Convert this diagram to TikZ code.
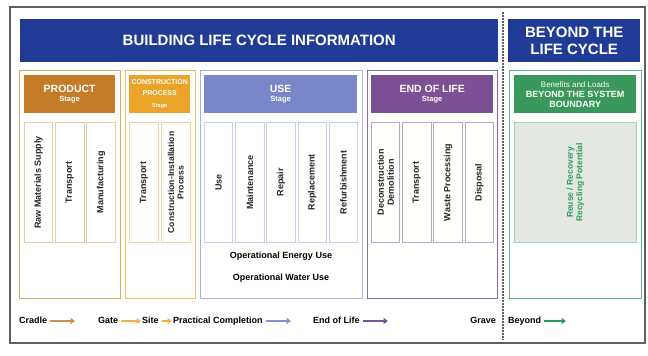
\documentclass[tikz,border=0pt]{standalone}
\usepackage{fontspec}
\setmainfont{Liberation Sans}
\usetikzlibrary{positioning, arrows.meta}

\definecolor{lcBlue}{RGB}{33,60,150}
\definecolor{prodHead}{RGB}{196,124,40}
\definecolor{prodLine}{RGB}{214,166,104}
\definecolor{prodCol}{RGB}{232,204,168}
\definecolor{consHead}{RGB}{234,164,40}
\definecolor{consLine}{RGB}{238,192,90}
\definecolor{consCol}{RGB}{242,214,150}
\definecolor{useHead}{RGB}{122,134,202}
\definecolor{useLine}{RGB}{168,178,222}
\definecolor{useCol}{RGB}{200,206,236}
\definecolor{eolHead}{RGB}{124,80,148}
\definecolor{eolLine}{RGB}{140,108,166}
\definecolor{eolCol}{RGB}{186,166,204}
\definecolor{bydHead}{RGB}{58,152,90}
\definecolor{bydLine}{RGB}{92,184,146}
\definecolor{bydCol}{RGB}{160,212,186}
\definecolor{bydFill}{RGB}{228,232,227}
\definecolor{bydText}{RGB}{46,154,94}
\definecolor{frameGray}{RGB}{95,95,95}

\newcommand{\HeadBig}[1]{{\fontsize{10.5}{12}\selectfont #1}}
\newcommand{\HeadSmall}[1]{{\fontsize{7.5}{8}\selectfont #1}}

\tikzstyle{Banner} = [fill=lcBlue, text=white, inner sep=0pt, anchor=north west,
minimum height=43pt, align=center, font=\bfseries\fontsize{15}{17}\selectfont]
\tikzstyle{Stage} = [draw, line width=1.3pt, inner sep=0pt, anchor=north west,
minimum height=228pt]
\tikzstyle{Head} = [inner sep=0pt, anchor=north west, minimum height=38pt,
text=white, align=center, font=\bfseries\fontsize{8}{9}\selectfont]
\tikzstyle{Col} = [draw, line width=0.9pt, inner sep=0pt,
minimum width=28.3pt, minimum height=120pt]
\tikzstyle{ColText} = [rotate=90, align=center, text=black!85,
font=\bfseries\fontsize{9}{10}\selectfont]
\tikzstyle{Legend} = [inner sep=1pt, text height=7pt, text depth=2pt,
font=\bfseries\fontsize{9}{10}\selectfont]
\tikzstyle{Arrow} = [line width=1.4pt, shorten <=2pt,
-{Triangle[length=4.5pt,width=6pt]}]

\begin{document}
\begin{tikzpicture}[x=1pt, y=-1pt]
    \useasboundingbox (0,0) rectangle (648,356);
    \draw[frameGray, line width=1.5pt] (10,7) rectangle (645,343);
    % banners
    \node[Banner, minimum width=478pt] (info) at (20,19) {BUILDING LIFE CYCLE INFORMATION};
    \node[Banner, minimum width=132pt] (beyondban) at (508,19) {BEYOND THE\\LIFE CYCLE};
    \draw[frameGray, line width=1.6pt, dash pattern=on 1.6pt off 1.4pt] (503,12) -- (503,340);
    % stages
    \node[Stage, draw=prodLine, minimum width=101pt] (prod) at (19,70) {};
    \node[Stage, draw=consLine, minimum width=70pt] (cons) at (125,70) {};
    \node[Stage, draw=useLine, minimum width=162pt] (use) at (200,70) {};
    \node[Stage, draw=eolLine, minimum width=130pt] (eol) at (367,70) {};
    \node[Stage, draw=bydLine, minimum width=132pt] (byd) at (509,70) {};
    % stage headers
    \node[Head, fill=prodHead, minimum width=91pt] (prodhead) at (24,75)
        {\HeadBig{PRODUCT}\\[0.5pt]\HeadSmall{Stage}};
    \node[Head, fill=consHead, minimum width=61pt] (conshead) at (129,75)
        {{\fontsize{7}{8}\selectfont CONSTRUCTION}\\[1.5pt]{\fontsize{7}{8}\selectfont PROCESS}\\[3pt]{\fontsize{5.5}{6}\selectfont Stage}};
    \node[Head, fill=useHead, minimum width=153pt] (usehead) at (204,75)
        {\HeadBig{USE}\\[0.5pt]\HeadSmall{Stage}};
    \node[Head, fill=eolHead, minimum width=122pt] (eolhead) at (371,75)
        {\HeadBig{END OF LIFE}\\[0.5pt]\HeadSmall{Stage}};
    \node[Head, fill=bydHead, minimum width=122pt] (bydhead) at (514,75)
        {{\mdseries\fontsize{8}{9}\selectfont Benefits and Loads}\\[1.5pt]{\fontsize{9}{10}\selectfont BEYOND THE SYSTEM}\\[0.5pt]{\fontsize{9}{10}\selectfont BOUNDARY}};
    % product modules
    \node[Col, draw=prodCol, anchor=north west, label={[ColText]center:Raw Materials Supply}] (p1) at (24,122) {};
    \node[Col, draw=prodCol, right=2pt of p1, label={[ColText]center:Transport}] (p2) {};
    \node[Col, draw=prodCol, right=2pt of p2, label={[ColText]center:Manufacturing}] (p3) {};
    % construction modules
    \node[Col, draw=consCol, anchor=north west, minimum width=29pt, label={[ColText]center:Transport}] (c1) at (129,122) {};
    \node[Col, draw=consCol, right=2pt of c1, minimum width=29pt,
        label={[ColText, font=\bfseries\fontsize{8.6}{9.6}\selectfont]center:{Construction-Installation\\Process}}] (c2) {};
    % use modules
    \node[Col, draw=useCol, anchor=north west, label={[ColText]center:Use}] (u1) at (204,122) {};
    \node[Col, draw=useCol, right=2pt of u1, label={[ColText]center:Maintenance}] (u2) {};
    \node[Col, draw=useCol, right=2pt of u2, label={[ColText]center:Repair}] (u3) {};
    \node[Col, draw=useCol, right=2pt of u3, label={[ColText]center:Replacement}] (u4) {};
    \node[Col, draw=useCol, right=2pt of u4, label={[ColText]center:Refurbishment}] (u5) {};
    \node[font=\bfseries\fontsize{9}{10}\selectfont] (energy) at (281,256) {Operational Energy Use};
    \node[font=\bfseries\fontsize{9}{10}\selectfont] (water) at (281,278) {Operational Water Use};
    % end of life modules
    \node[Col, draw=eolCol, anchor=north west, label={[ColText]center:{Deconstruction\\Demolition}}] (e1) at (371,122) {};
    \node[Col, draw=eolCol, right=2pt of e1, label={[ColText]center:Transport}] (e2) {};
    \node[Col, draw=eolCol, right=2pt of e2, label={[ColText]center:Waste Processing}] (e3) {};
    \node[Col, draw=eolCol, right=2pt of e3, label={[ColText]center:Disposal}] (e4) {};
    % beyond module
    \node[Col, draw=bydCol, fill=bydFill, anchor=north west, minimum width=122pt,
        label={[ColText, text=bydText, font=\bfseries\fontsize{8.5}{9.5}\selectfont]center:{Reuse / Recovery\\Recycling Potential}}] (b1) at (514,122) {};
    % legend
    \node[Legend, anchor=west] (cradle) at (18,321) {Cradle};
    \coordinate (cradleEnd) at (75,321);
    \draw[Arrow, prodHead!85] (cradle) -- (cradleEnd);
    \node[Legend, anchor=west] (gate) at (97,321) {Gate};
    \node[Legend, anchor=west] (site) at (141,321) {Site};
    \node[Legend, anchor=west] (pc) at (172,321) {Practical Completion};
    \draw[Arrow, consHead!85] (gate) -- (site);
    \draw[Arrow, consHead!85] (site) -- (pc);
    \coordinate (pcEnd) at (291,321);
    \draw[Arrow, useHead!90] (pc) -- (pcEnd);
    \node[Legend, anchor=west] (eolmark) at (312,321) {End of Life};
    \coordinate (eolEnd) at (388,321);
    \draw[Arrow, eolHead] (eolmark) -- (eolEnd);
    \node[Legend, anchor=east] (grave) at (497,321) {Grave};
    \node[Legend, anchor=west] (beyond) at (507,321) {Beyond};
    \coordinate (beyondEnd) at (566,321);
    \draw[Arrow, bydText] (beyond) -- (beyondEnd);
\end{tikzpicture}
\end{document}
